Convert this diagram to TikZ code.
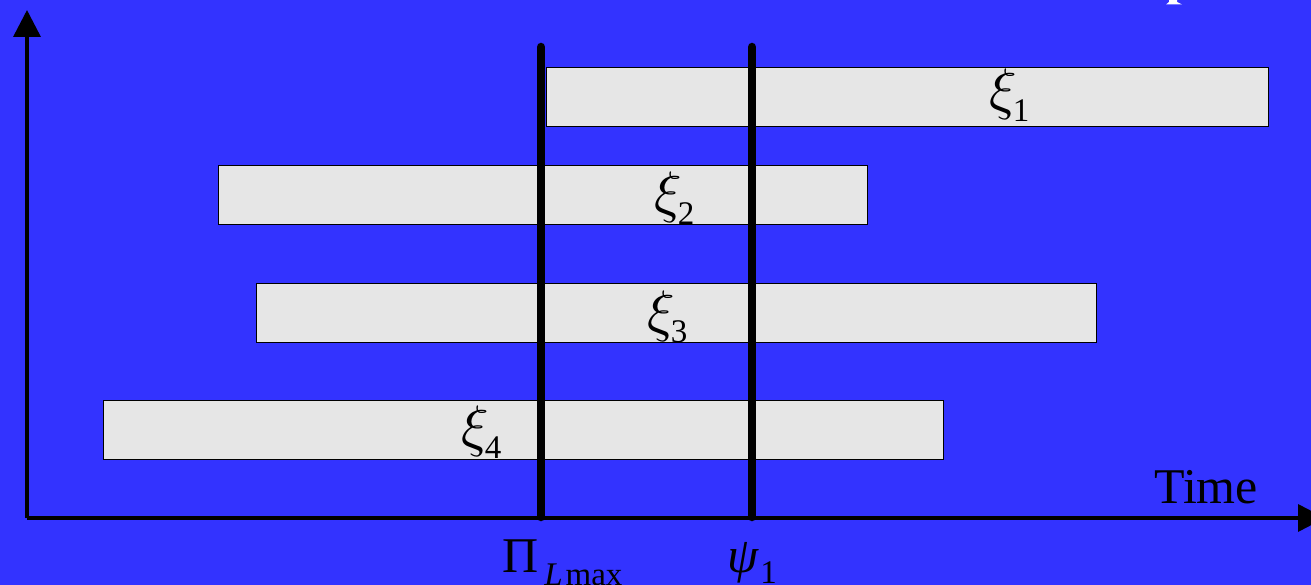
\documentclass[tikz,border=0pt]{standalone}
\usepackage{graphicx}
\usepackage{fontspec}
\setmainfont{Liberation Serif}
\usetikzlibrary{arrows.meta}
\definecolor{bgblue}{HTML}{3333FF}
\definecolor{boxgray}{HTML}{E6E6E6}
\newcommand{\bigsz}{\fontsize{50}{50}\selectfont}
\newcommand{\subsz}{\fontsize{33}{33}\selectfont}
\newcommand{\xilbl}[1]{\scalebox{5.7}{$\xi$}\kern-4pt{\subsz\raisebox{-13pt}{#1}}}
\begin{document}
\begin{tikzpicture}[x=1pt,y=-1pt,
  interval/.style={draw=black, line width=1.3pt, fill=boxgray, inner sep=0pt, anchor=north west},
  lab/.style={inner sep=0pt, anchor=base west, text=black},
  axis/.style={line width=3.5pt, -{Triangle[length=27pt,width=27pt]}},
  thick bar/.style={line width=8.5pt, line cap=round}]
\useasboundingbox (0,0) rectangle (1311,585);
\fill[bgblue] (0,0) rectangle (1311,585);
\clip (0,0) rectangle (1311,585);
% cut-off white glyph at top
\fill[white] (1169,0) -- (1177,0) -- (1177,2) -- (1182,4.5) -- (1166,4.5) -- (1169,2) -- cycle;
% intervals
\node[interval, minimum width=722pt, minimum height=59pt] (x1) at (546,67) {};
\node[interval, minimum width=649pt, minimum height=59pt] (x2) at (218,165) {};
\node[interval, minimum width=840pt, minimum height=59pt] (x3) at (256,283) {};
\node[interval, minimum width=840pt, minimum height=59pt] (x4) at (103,400) {};
% labels
\node[lab] (l1) at (989,109) {\xilbl{1}};
\node[lab] (l2) at (654,212) {\xilbl{2}};
\node[lab] (l3) at (647,330) {\xilbl{3}};
\node[lab] (l4) at (461,445) {\xilbl{4}};
% axes
\coordinate (o) at (27,518);
\coordinate (ytop) at (27,10);
\coordinate (xend) at (1325,518);
\draw[axis] (o) -- (ytop);
\draw[axis] (o) -- (xend);
\node[lab] (time) at (1154,503) {\fontsize{50}{50}\selectfont Time};
% vertical bars
\coordinate (p1t) at (541,47);
\coordinate (p1b) at (541,517);
\coordinate (p2t) at (752,47);
\coordinate (p2b) at (752,517);
\draw[thick bar] (p1t) -- (p1b);
\draw[thick bar] (p2t) -- (p2b);
\node[lab] (pi) at (502,572) {{\bigsz Π}\kern6pt{\subsz\raisebox{-13pt}{\itshape L\kern3pt\upshape max}}};
\node[lab] (psi) at (727,572) {{\bigsz\itshape ψ}\kern2pt{\subsz\raisebox{-11pt}{1}}};
\end{tikzpicture}
\end{document}
